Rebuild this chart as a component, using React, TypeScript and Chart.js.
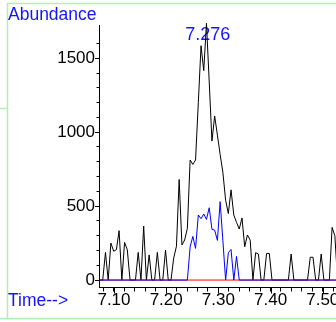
import React, { useEffect, useRef } from "react";
import { Chart, registerables } from "chart.js";

Chart.register(...registerables);

// Scan times (min)
const scanTimes = [
  7.0732, 7.0784, 7.0837, 7.0889, 7.0941, 7.0994, 7.1046, 7.1098, 7.1151, 7.1203,
  7.1255, 7.1308, 7.1360, 7.1412, 7.1464, 7.1517, 7.1569, 7.1621, 7.1674, 7.1726,
  7.1778, 7.1831, 7.1883, 7.1935, 7.1988, 7.2040, 7.2092, 7.2145, 7.2197, 7.2249,
  7.2302, 7.2354, 7.2406, 7.2459, 7.2511, 7.2563, 7.2616, 7.2668, 7.2720, 7.2772,
  7.2825, 7.2877, 7.2929, 7.2982, 7.3034, 7.3086, 7.3139, 7.3191, 7.3243, 7.3296,
  7.3348, 7.3400, 7.3453, 7.3505, 7.3557, 7.3610, 7.3662, 7.3714, 7.3767, 7.3819,
  7.3871, 7.3924, 7.3976, 7.4028, 7.4080, 7.4133, 7.4185, 7.4237, 7.4290, 7.4342,
  7.4394, 7.4447, 7.4499, 7.4551, 7.4604, 7.4656, 7.4708, 7.4761, 7.4813, 7.4865,
  7.4918, 7.4970, 7.5022, 7.5075, 7.5127, 7.5179, 7.5232, 7.5284,
];

// Black trace abundance
const ionBlack = [
  0, 0, 187, 0, 250, 195, 205, 334, 0, 255,
  205, 0, 0, 0, 187, 0, 365, 0, 170, 0,
  0, 187, 0, 0, 203, 0, 0, 150, 228, 680,
  237, 271, 350, 812, 782, 812, 1200, 1585, 1416, 1737,
  1340, 940, 1110, 980, 850, 730, 540, 450, 610, 440,
  390, 345, 420, 225, 305, 270, 0, 185, 176, 0,
  0, 180, 180, 0, 0, 0, 0, 0, 0, 0,
  176, 0, 0, 0, 0, 0, 0, 154, 154, 0,
  0, 176, 0, 0, 0, 356, 300, 0,
];

// Blue trace abundance
const ionBlue = [
  0, 0, 0, 0, 0, 0, 0, 0, 0, 0,
  0, 0, 0, 0, 0, 0, 0, 0, 0, 0,
  0, 0, 0, 0, 0, 0, 0, 0, 0, 0,
  0, 0, 0, 225, 295, 214, 440, 415, 447, 410,
  489, 343, 338, 268, 530, 270, 0, 185, 207, 0,
  160, 0, 0, 0, 0, 0, 0, 0, 0, 0,
  0, 0, 0, 0, 0, 0, 0, 0, 0, 0,
  0, 0, 0, 0, 0, 0, 0, 0, 0, 0,
  0, 0, 0, 0, 0, 0, 0, 0,
];

// Red trace (flat zero)
const redTimes = [7.0732, 7.5284];
const ionRed = [0, 0];

const xTickValues = [
  7.08, 7.1, 7.12, 7.14, 7.16, 7.18, 7.2, 7.22, 7.24, 7.26, 7.28, 7.3,
  7.32, 7.34, 7.36, 7.38, 7.4, 7.42, 7.44, 7.46, 7.48, 7.5, 7.52,
];
const xLabelTicks = [7.1, 7.2, 7.3, 7.4, 7.5];
const yTickValues = [0, 100, 200, 300, 400, 500, 600, 700, 800, 900, 1000, 1100, 1200, 1300, 1400, 1500, 1600];
const yLabelTicks = [0, 500, 1000, 1500];

const peakTime = 7.276;
const peakLabel = "7.276";
const yTitle = "Abundance";
const xTitle = "Time-->";

const X_MIN = 7.0713;
const X_MAX = 7.5254;
const Y_MIN = -47;
const Y_MAX = 1725;

const FONT = '"Liberation Sans", Arial, Helvetica, sans-serif';
const TEXT_BLUE = "#1414ff";
const FRAME_GREEN = "#b2f0b2";

const isIn = (arr: number[], v: number) => arr.some((m) => Math.abs(m - v) < 1e-6);

const decorPlugin = {
  id: "decor",
  beforeDraw(chart: any) {
    const ctx = chart.ctx;
    ctx.save();
    ctx.fillStyle = "#fff";
    ctx.fillRect(0, 0, chart.width, chart.height);
    ctx.strokeStyle = FRAME_GREEN;
    ctx.lineWidth = 1.5;
    ctx.beginPath();
    ctx.moveTo(7.5, 318.5);
    ctx.lineTo(7.5, 3.5);
    ctx.lineTo(chart.width, 3.5);
    ctx.moveTo(0, 318.5);
    ctx.lineTo(chart.width, 318.5);
    ctx.moveTo(0, 108.5);
    ctx.lineTo(7.5, 108.5);
    ctx.stroke();
    ctx.restore();
  },
  beforeDatasetsDraw(chart: any) {
    const ctx = chart.ctx;
    const xs = chart.scales.x;
    const ys = chart.scales.y;
    ctx.save();
    ctx.fillStyle = TEXT_BLUE;
    ctx.font = `17.5px ${FONT}`;
    ctx.textBaseline = "alphabetic";
    ctx.textAlign = "left";
    ctx.fillText(yTitle, 8, 19.5);
    ctx.fillText(xTitle, 8, 306);
    const maxV = Math.max(...ionBlack);
    ctx.textAlign = "center";
    ctx.font = `18px ${FONT}`;
    ctx.fillText(peakLabel, xs.getPixelForValue(peakTime) + 2, ys.getPixelForValue(maxV) + 16.7);
    ctx.restore();
  },
  afterDraw(chart: any) {
    const ctx = chart.ctx;
    const xs = chart.scales.x;
    const ys = chart.scales.y;
    const area = chart.chartArea;
    ctx.save();
    ctx.strokeStyle = "#000";
    ctx.lineWidth = 1;
    ctx.beginPath();
    for (const v of xLabelTicks) {
      const px = Math.round(xs.getPixelForValue(v)) + 0.5;
      ctx.moveTo(px, area.bottom);
      ctx.lineTo(px, area.bottom + 6.5);
    }
    for (const v of yLabelTicks) {
      const py = Math.round(ys.getPixelForValue(v)) + 0.5;
      ctx.moveTo(area.left - 4, py);
      ctx.lineTo(area.left, py);
    }
    ctx.stroke();
    ctx.restore();
  },
};

export default function App() {
  const ref = useRef<HTMLCanvasElement>(null);
  useEffect(() => {
    const common = { borderWidth: 1, pointRadius: 0, tension: 0, fill: false, clip: false as any };
    const chart = new Chart(ref.current as HTMLCanvasElement, {
      type: "line",
      data: {
        datasets: [
          { ...common, label: "blue", order: 0, borderColor: "#0000ff", data: scanTimes.map((t, i) => ({ x: t, y: ionBlue[i] })) },
          { ...common, label: "red", order: 1, borderColor: "#ff0000", data: redTimes.map((t, i) => ({ x: t, y: ionRed[i] })) },
          { ...common, label: "black", order: 2, borderColor: "#000000", data: scanTimes.map((t, i) => ({ x: t, y: ionBlack[i] })) },
        ],
      },
      options: {
        responsive: false,
        animation: false,
        devicePixelRatio: 1,
        events: [],
        layout: { padding: { top: 25, left: 0, right: 0, bottom: 0 }, autoPadding: false } as any,
        plugins: { legend: { display: false }, tooltip: { enabled: false } },
        scales: {
          x: {
            type: "linear",
            min: X_MIN,
            max: X_MAX,
            afterFit: (s: any) => { s.height = 35; },
            afterBuildTicks: (s: any) => { s.ticks = xTickValues.map((v) => ({ value: v })); },
            grid: { display: true, drawOnChartArea: false, drawTicks: true, tickLength: 4.5, color: "#000", lineWidth: 1 },
            border: { display: true, color: "#000", width: 1 },
            ticks: {
              autoSkip: false,
              maxRotation: 0,
              minRotation: 0,
              padding: -1,
              color: "#000",
              font: { size: 17, family: FONT, lineHeight: 1.2 },
              callback: (v: any) => (isIn(xLabelTicks, Number(v)) ? Number(v).toFixed(2) : ""),
            },
          },
          y: {
            type: "linear",
            min: Y_MIN,
            max: Y_MAX,
            afterFit: (s: any) => { s.width = 99; },
            afterBuildTicks: (s: any) => { s.ticks = yTickValues.map((v) => ({ value: v })); },
            grid: { display: true, drawOnChartArea: false, drawTicks: true, tickLength: 2.5, color: "#000", lineWidth: 1 },
            border: { display: true, color: "#000", width: 1 },
            ticks: {
              autoSkip: false,
              padding: 1.5,
              color: "#000",
              font: { size: 17, family: FONT, lineHeight: 1.2 },
              callback: (v: any) => (isIn(yLabelTicks, Number(v)) ? String(v) : ""),
            },
          },
        },
      },
      plugins: [decorPlugin],
    });
    return () => chart.destroy();
  }, []);
  return (
    <div style={{ position: "fixed", left: 0, top: 0, width: 336, height: 322, overflow: "hidden", background: "#fff" }}>
      <canvas ref={ref} width={336} height={322} style={{ display: "block", width: 336, height: 322 }} />
    </div>
  );
}
